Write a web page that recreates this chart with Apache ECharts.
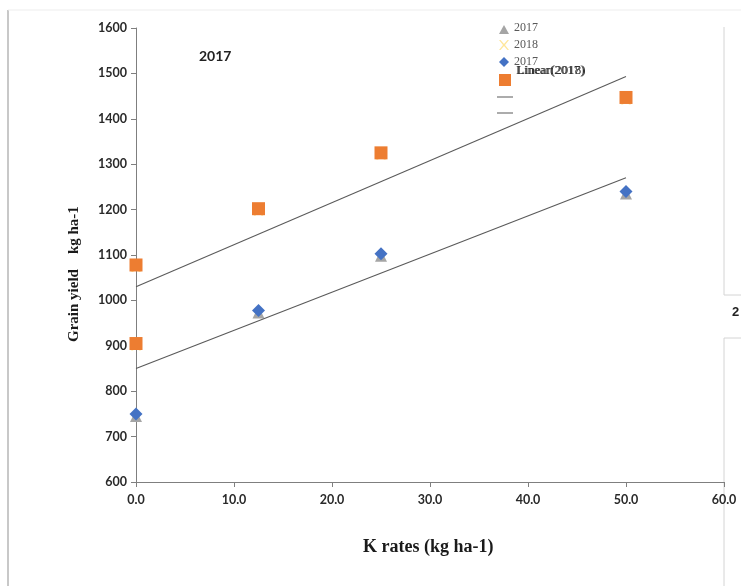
<!DOCTYPE html>
<html>
<head>
<meta charset="utf-8">
<script src="https://cdn.jsdelivr.net/npm/echarts@6/dist/echarts.min.js"></script>
<style>html,body{margin:0;padding:0;background:#fff}#c{width:741px;height:586px}</style>
</head>
<body>
<div id="c"></div>
<script>
// Data
var kRates2017 = [0, 12.5, 25, 50];
var yield2017 = [750, 978, 1103, 1240];
var kRates2018 = [0, 0, 12.5, 25, 50];
var yield2018 = [1078, 905, 1202, 1325, 1447];
var trendX = [0, 50];
var trend2017 = [850, 1270];
var trend2018 = [1030, 1493];
var xTicks = ['0.0', '10.0', '20.0', '30.0', '40.0', '50.0', '60.0'];
var legendLabels = ['2017', '2018', '2017', 'Linear(2017)', 'Linear(2018)'];

function pairs(xs, ys) { return xs.map(function (x, i) { return [x, ys[i]]; }); }

var X_PATH = 'path://M0,0 L2,0 L5,3.5 L8,0 L10,0 L6,5 L10,10 L8,10 L5,6.5 L2,10 L0,10 L4,5 Z';
var tickFont = {fontFamily: 'Lato, "Liberation Sans", sans-serif', fontSize: 12.5, fontWeight: 'bold', color: '#2a2a2a'};
var serif = '"Liberation Serif", "DejaVu Serif", serif';

function txt(x, y, s, font, fill) {
  return {type: 'text', x: x, y: y, style: {text: s, font: font, fill: fill, textVerticalAlign: 'top'}};
}

var chart = echarts.init(document.getElementById('c'));
chart.setOption({
  animation: false,
  backgroundColor: '#fff',
  grid: {left: 136, right: 17, top: 28, bottom: 104, containLabel: false},
  xAxis: {
    type: 'value', min: 0, max: 60, interval: 10,
    axisLine: {show: true, lineStyle: {color: '#7f7f7f', width: 1}},
    axisTick: {show: true, length: 5, lineStyle: {color: '#7f7f7f'}},
    axisLabel: Object.assign({margin: 11, formatter: function (v) { return xTicks[Math.round(v / 10)]; }}, tickFont),
    splitLine: {show: false}
  },
  yAxis: {
    type: 'value', min: 600, max: 1600, interval: 100,
    axisLine: {show: true, lineStyle: {color: '#7f7f7f', width: 1}},
    axisTick: {show: true, length: 5, lineStyle: {color: '#7f7f7f'}},
    axisLabel: Object.assign({margin: 9, formatter: function (v) { return String(v); }}, tickFont),
    splitLine: {show: false}
  },
  series: [
    {type: 'scatter', name: '2017a', data: pairs(kRates2017, yield2017), symbol: 'triangle', symbolSize: 12,
      symbolOffset: [0, 2], itemStyle: {color: '#a5a5a5', opacity: 1}, z: 2},
    {type: 'scatter', name: '2018a', data: pairs(kRates2018, yield2018), symbol: X_PATH, symbolSize: 10,
      symbolOffset: [0, 2], itemStyle: {color: '#ffe699', opacity: 1}, z: 2},
    {type: 'scatter', name: '2017', data: pairs(kRates2017, yield2017), symbol: 'diamond', symbolSize: 13,
      itemStyle: {color: '#4472c4', opacity: 1}, z: 3},
    {type: 'scatter', name: '2018', data: pairs(kRates2018, yield2018), symbol: 'rect', symbolSize: 13,
      itemStyle: {color: '#ed7d31', opacity: 1}, z: 3},
    {type: 'line', name: 'Linear(2017)', data: pairs(trendX, trend2017), symbol: 'none',
      lineStyle: {color: '#5a5a5a', width: 1.1}, z: 4},
    {type: 'line', name: 'Linear(2018)', data: pairs(trendX, trend2018), symbol: 'none',
      lineStyle: {color: '#5a5a5a', width: 1.1}, z: 4}
  ],
  graphic: [
    // page frame lines
    {type: 'line', shape: {x1: 8, y1: 10, x2: 8, y2: 586}, style: {stroke: '#c8c8c8', lineWidth: 2}},
    {type: 'line', shape: {x1: 8, y1: 10, x2: 741, y2: 10}, style: {stroke: '#ededed', lineWidth: 1}},
    {type: 'polyline', shape: {points: [[724, 27], [724, 295], [741, 295]]}, style: {stroke: '#d4d4d4', lineWidth: 1, fill: null}},
    {type: 'polyline', shape: {points: [[724, 586], [724, 338], [741, 338]]}, style: {stroke: '#d4d4d4', lineWidth: 1, fill: null}},
    txt(732, 306, '2', 'bold 13px "Liberation Sans", sans-serif', '#222'),
    // chart title
    txt(199, 49, '2017', 'bold 14px Lato, "Liberation Sans", sans-serif', '#222'),
    // axis titles
    txt(363, 538, 'K rates (kg ha-1)', 'bold 18px ' + serif, '#1a1a1a'),
    {type: 'text', x: 67, y: 342, rotation: Math.PI / 2, style: {text: 'Grain yield    kg ha-1', font: 'bold 15px ' + serif, fill: '#1a1a1a', textAlign: 'left', textVerticalAlign: 'top'}},
    // legend
    {type: 'polygon', shape: {points: [[499, 34], [504, 25], [509, 34]]}, style: {fill: '#a5a5a5'}},
    txt(514, 22, legendLabels[0], '12px ' + serif, '#595959'),
    {type: 'polygon', shape: {points: [[499, 40], [500.5, 40], [504, 44], [507.5, 40], [509, 40], [505, 45], [509, 50], [507.5, 50], [504, 46], [500.5, 50], [499, 50], [503, 45]]}, style: {fill: '#ffe699'}},
    txt(514, 39, legendLabels[1], '12px ' + serif, '#595959'),
    {type: 'polygon', shape: {points: [[504, 57], [509, 62], [504, 67], [499, 62]]}, style: {fill: '#4472c4'}},
    txt(514, 56, legendLabels[2], '12px ' + serif, '#595959'),
    txt(516, 64, legendLabels[3], '13px ' + serif, '#333'),
    txt(517, 64, legendLabels[4], '13px ' + serif, '#333'),
    {type: 'rect', shape: {x: 499, y: 74, width: 12, height: 12}, style: {fill: '#ed7d31'}},
    {type: 'line', shape: {x1: 497, y1: 97, x2: 513, y2: 97}, style: {stroke: '#7f7f7f', lineWidth: 1.3}},
    {type: 'line', shape: {x1: 497, y1: 113, x2: 513, y2: 113}, style: {stroke: '#7f7f7f', lineWidth: 1.3}}
  ]
});
</script>
</body>
</html>
